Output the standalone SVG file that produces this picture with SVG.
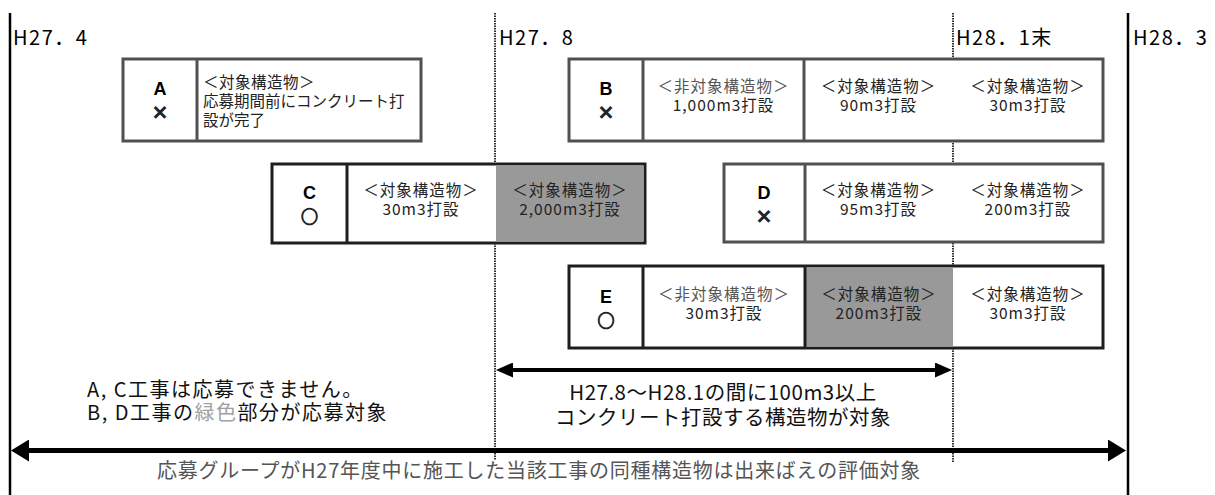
<svg xmlns="http://www.w3.org/2000/svg" width="1215" height="495" viewBox="0 0 1215 495">
<defs>
<style>
.t{font-family:"Noto Sans CJK JP","Liberation Sans",sans-serif;}
.hd{font-size:20px;fill:#000;letter-spacing:1.5px;}
.bx{font-size:15.5px;fill:#222;text-anchor:middle;letter-spacing:1px;}
.nt{fill:#555;}
.lbl{font-family:"Liberation Sans",Arial,sans-serif;font-weight:bold;font-size:18px;text-anchor:middle;fill:#000;}
.mk{font-family:"Noto Sans CJK JP",sans-serif;font-weight:bold;font-size:17px;text-anchor:middle;fill:#222;stroke:#222;stroke-width:1px;}
.bgr{fill:#fff;stroke:#505050;stroke-width:3;}
.bbk{fill:#fff;stroke:#1e1e1e;stroke-width:3;}
.dvg{stroke:#505050;stroke-width:3;}
.dvk{stroke:#1e1e1e;stroke-width:3;}
.gray{fill:#999;}
.solid{stroke:#000;stroke-width:2.5;}
.dash{stroke:#333;stroke-width:2;stroke-dasharray:1.5 1;}
.big{font-size:20px;fill:#111;letter-spacing:1.5px;}
.mid{font-size:20.5px;fill:#111;text-anchor:middle;letter-spacing:0.5px;}
.foot{font-size:20px;fill:#555;text-anchor:middle;letter-spacing:0.75px;}
</style>
<marker id="ah1" markerUnits="userSpaceOnUse" markerWidth="17" markerHeight="15" viewBox="0 0 17 15" refX="2" refY="7.5" orient="auto-start-reverse"><path d="M0,0 L17,7.5 L0,15 z" fill="#000"/></marker>
<marker id="ah2" markerUnits="userSpaceOnUse" markerWidth="18" markerHeight="22" viewBox="0 0 18 22" refX="2" refY="11" orient="auto-start-reverse"><path d="M0,0 L18,11 L0,22 z" fill="#000"/></marker>
</defs>
<rect width="1215" height="495" fill="#fff"/>

<g id="timeline">
<line class="solid" x1="10" y1="13" x2="10" y2="495"/>
<line class="solid" x1="1128" y1="13" x2="1128" y2="495"/>
<line class="dash" x1="495" y1="13" x2="495" y2="460"/>
<line class="dash" x1="953" y1="13" x2="953" y2="462"/>
<text class="t hd" x="13" y="45">H27．4</text>
<text class="t hd" x="499" y="45">H27．8</text>
<text class="t hd" x="956" y="45">H28．1末</text>
<text class="t hd" x="1133" y="45">H28．3</text>
</g>

<g id="node-A">
<rect class="bgr" x="123" y="59" width="298" height="82"/>
<line class="dvg" x1="197" y1="59" x2="197" y2="141"/>
<text class="lbl" x="160" y="95">A</text>
<text class="mk" x="160" y="119">×</text>
<text class="t bx" x="203" y="88" style="text-anchor:start;letter-spacing:0.5px">＜対象構造物＞</text>
<text class="t bx" x="203" y="107" style="text-anchor:start;letter-spacing:0">応募期間前にコンクリート打</text>
<text class="t bx" x="203" y="126" style="text-anchor:start;letter-spacing:0">設が完了</text>
</g>

<g id="node-B">
<rect class="bgr" x="569" y="59" width="534" height="82"/>
<line class="dvg" x1="643" y1="59" x2="643" y2="141"/>
<line class="dvg" x1="804" y1="59" x2="804" y2="141"/>
<text class="lbl" x="606" y="95">B</text>
<text class="mk" x="606" y="119">×</text>
<text class="t bx nt" x="723.5" y="92">＜非対象構造物＞</text>
<text class="t bx" x="723.5" y="111">1,000m3打設</text>
<text class="t bx" x="878.5" y="92">＜対象構造物＞</text>
<text class="t bx" x="878.5" y="111">90m3打設</text>
<text class="t bx" x="1028" y="92">＜対象構造物＞</text>
<text class="t bx" x="1028" y="111">30m3打設</text>
</g>

<g id="node-C">
<rect class="bbk" x="272" y="164" width="373" height="79"/>
<rect class="gray" x="496" y="165.5" width="147.5" height="76"/>
<line class="dvk" x1="347" y1="164" x2="347" y2="243"/>
<text class="lbl" x="309.5" y="199">C</text>
<text class="mk" x="309.5" y="223">○</text>
<text class="t bx" x="421" y="196">＜対象構造物＞</text>
<text class="t bx" x="421" y="215">30m3打設</text>
<text class="t bx" x="570" y="196">＜対象構造物＞</text>
<text class="t bx" x="570" y="215">2,000m3打設</text>
</g>

<g id="node-D">
<rect class="bgr" x="724" y="164" width="379" height="78"/>
<line class="dvg" x1="805" y1="164" x2="805" y2="242"/>
<text class="lbl" x="764" y="199">D</text>
<text class="mk" x="764" y="223">×</text>
<text class="t bx" x="878.5" y="196">＜対象構造物＞</text>
<text class="t bx" x="878.5" y="215">95m3打設</text>
<text class="t bx" x="1028" y="196">＜対象構造物＞</text>
<text class="t bx" x="1028" y="215">200m3打設</text>
</g>

<g id="node-E">
<rect class="bbk" x="569" y="266" width="534" height="82"/>
<rect class="gray" x="805" y="267.5" width="148" height="79"/>
<line class="dvk" x1="643" y1="266" x2="643" y2="348"/>
<line class="dvk" x1="805" y1="266" x2="805" y2="348"/>
<text class="lbl" x="606" y="303">E</text>
<text class="mk" x="606" y="327">○</text>
<text class="t bx nt" x="724" y="300">＜非対象構造物＞</text>
<text class="t bx" x="724" y="319">30m3打設</text>
<text class="t bx" x="879" y="300">＜対象構造物＞</text>
<text class="t bx" x="879" y="319">200m3打設</text>
<text class="t bx" x="1028" y="300">＜対象構造物＞</text>
<text class="t bx" x="1028" y="319">30m3打設</text>
</g>

<g id="connectors">
<line x1="511" y1="370" x2="937" y2="370" stroke="#000" stroke-width="4" marker-start="url(#ah1)" marker-end="url(#ah1)"/>
<line x1="27" y1="450.5" x2="1110" y2="450.5" stroke="#000" stroke-width="5" marker-start="url(#ah2)" marker-end="url(#ah2)"/>
</g>

<g id="notes">
<text class="t big" x="87" y="397">A, C工事は応募できません。</text>
<text class="t big" x="87" y="420">B, D工事の<tspan fill="#a0a0a0">緑色</tspan>部分が応募対象</text>
<text class="t mid" x="723" y="400">H27.8～H28.1の間に100m3以上</text>
<text class="t mid" x="723" y="425">コンクリート打設する構造物が対象</text>
<text class="t foot" x="539" y="478">応募グループがH27年度中に施工した当該工事の同種構造物は出来ばえの評価対象</text>
</g>
</svg>
